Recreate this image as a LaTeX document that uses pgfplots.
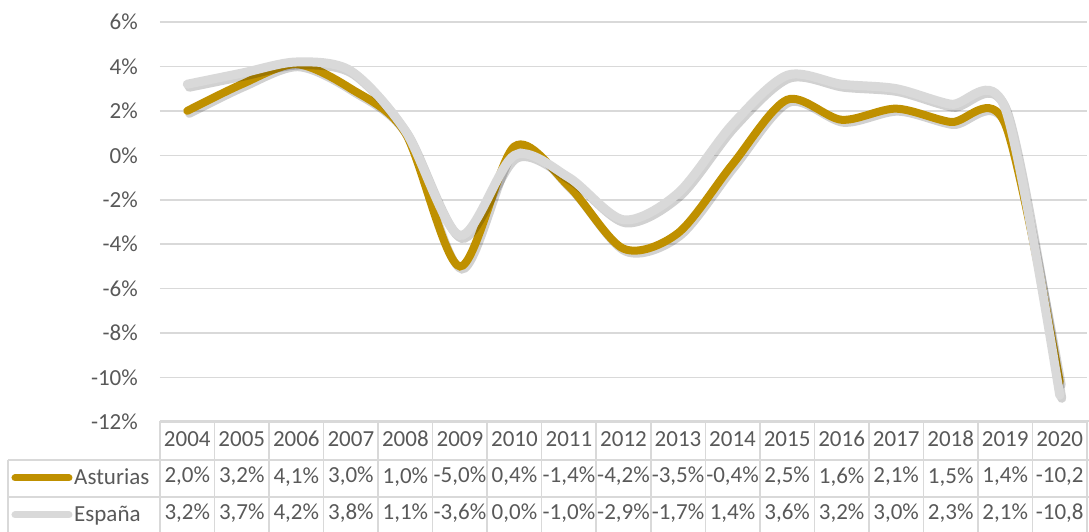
\documentclass[border=0pt]{standalone}
\usepackage{pgfplots}
\usepackage{pgfplotstable}
\pgfplotsset{compat=1.18}
\usepackage{fontspec}
\setmainfont{Carlito}
\definecolor{txt}{HTML}{595959}
\definecolor{gridc}{HTML}{D9D9D9}
\definecolor{ast}{HTML}{BF9000}
\definecolor{esp}{HTML}{D9D9D9}

\pgfplotstableread{
x year ast esp
0 2004 2.0 3.2
1 2005 3.2 3.7
2 2006 4.1 4.2
3 2007 3.0 3.8
4 2008 1.0 1.1
5 2009 -5.0 -3.6
6 2010 0.4 0.0
7 2011 -1.4 -1.0
8 2012 -4.2 -2.9
9 2013 -3.5 -1.7
10 2014 -0.4 1.4
11 2015 2.5 3.6
12 2016 1.6 3.2
13 2017 2.1 3.0
14 2018 1.5 2.3
15 2019 1.4 2.1
16 2020 -10.2 -10.8
}\gdp

\begin{document}
\begin{tikzpicture}[x=1pt, y=1pt, font=\fontsize{23}{27}\selectfont, text=txt]
\begin{axis}[
  scale only axis,
  width=927pt, height=400pt,
  xmin=-0.5, xmax=16.5,
  ymin=-12, ymax=6,
  ytick={-12,-10,...,6},
  yticklabels={-12\%,-10\%,-8\%,-6\%,-4\%,-2\%,0\%,2\%,4\%,6\%},
  yticklabel style={inner sep=0pt, xshift=-22pt, text=txt,
    font=\fontsize{23}{27}\selectfont},
  xtick={0,...,16},
  xticklabels={
    {2004\\2,0\%\\3,2\%},{2005\\3,2\%\\3,7\%},{2006\\4,1\%\\4,2\%},
    {2007\\3,0\%\\3,8\%},{2008\\1,0\%\\1,1\%},{2009\\-5,0\%\\-3,6\%},
    {2010\\0,4\%\\0,0\%},{2011\\-1,4\%\\-1,0\%},{2012\\-4,2\%\\-2,9\%},
    {2013\\-3,5\%\\-1,7\%},{2014\\-0,4\%\\1,4\%},{2015\\2,5\%\\3,6\%},
    {2016\\1,6\%\\3,2\%},{2017\\2,1\%\\3,0\%},{2018\\1,5\%\\2,3\%},
    {2019\\1,4\%\\2,1\%},{2020\\-10,2\\-10,8}},
  xticklabel style={align=center, inner sep=0pt, anchor=north, yshift=-9pt,
    font=\fontsize{23}{36.5}\selectfont, text=txt},
  major tick length=0pt,
  axis line style={draw=none},
  ymajorgrids,
  grid style={gridc, line width=1.5pt},
  clip=false,
]
\addplot[black, opacity=0.18, line width=8pt, line cap=round, smooth,
  transform canvas={xshift=2pt, yshift=-3pt}] table[x=x, y=ast] {\gdp};
\addplot[ast, line width=8pt, line cap=round, smooth] table[x=x, y=ast] {\gdp};
\addplot[black, opacity=0.18, line width=9pt, line cap=round, smooth,
  transform canvas={xshift=2pt, yshift=-3pt}] table[x=x, y=esp] {\gdp};
\addplot[esp, line width=9pt, line cap=round, smooth] table[x=x, y=esp] {\gdp};
\end{axis}
% data table grid (1pt = 1px; axis south west at origin)
\begin{scope}[gridc, line width=1.5pt]
  \draw (0,1) -- (929,1);
  \draw (-152,-38) -- (929,-38);
  \draw (-152,-75) -- (929,-75);
  \draw (-152,-38) -- (-152,-112);
  \foreach \i in {0,...,17} {
    \draw ({\i*927/17},1) -- ({\i*927/17},-112);
  }
\end{scope}
\draw[ast, line width=7pt, line cap=round] (-145,-56) -- (-91,-56);
\node[anchor=base west, inner sep=0pt] at (-86,-63) {Asturias};
\draw[esp, line width=7pt, line cap=round] (-145,-93) -- (-91,-93);
\node[anchor=base west, inner sep=0pt] at (-86,-100) {España};
\pgfresetboundingbox
\path[use as bounding box] (-160,-110) rectangle (929,422);
\end{tikzpicture}
\end{document}
